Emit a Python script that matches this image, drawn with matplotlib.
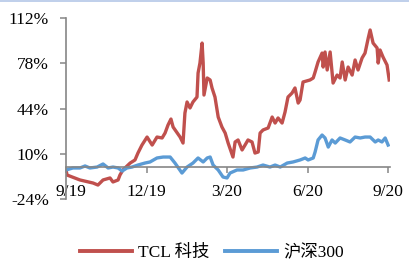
import matplotlib
matplotlib.use("Agg")
import matplotlib.pyplot as plt
from matplotlib.lines import Line2D
from matplotlib.transforms import ScaledTranslation

# months since 9/19 and cumulative return (%)
tcl_x = [0.00, 0.04, 0.52, 1.01, 1.19, 1.38, 1.64, 1.75, 1.94, 2.01, 2.12, 2.39, 2.57, 2.68,
         2.83, 3.02, 3.21, 3.39, 3.58, 3.69, 3.80, 3.91, 3.99, 4.25, 4.36, 4.43, 4.51, 4.62,
         4.73, 4.88, 4.92, 4.99, 5.07, 5.11, 5.14, 5.26, 5.37, 5.44, 5.55, 5.67, 5.81, 5.93,
         6.04, 6.22, 6.30, 6.41, 6.56, 6.67, 6.78, 6.93, 7.04, 7.16, 7.23, 7.34, 7.53, 7.68,
         7.79, 7.90, 8.05, 8.16, 8.27, 8.42, 8.53, 8.65, 8.72, 8.83, 9.09, 9.21, 9.28, 9.39,
         9.54, 9.58, 9.65, 9.73, 9.84, 9.95, 10.10, 10.21, 10.29, 10.40, 10.51, 10.66, 10.77,
         10.88, 11.03, 11.14, 11.26, 11.33, 11.44, 11.59, 11.63, 11.70, 11.81, 11.96, 12.04]
tcl_y = [-2.0, -5.8, -9.5, -11.8, -13.3, -9.5, -8.0, -11.0, -9.5, -5.8, -2.0, 3.2, 5.5, 10.7,
         16.7, 22.7, 16.7, 22.7, 22.0, 25.7, 31.7, 36.2, 30.2, 22.7, 18.2, 40.7, 49.0, 44.5,
         49.0, 52.7, 70.7, 78.2, 93.2, 78.2, 54.2, 67.0, 65.5, 59.5, 52.7, 37.7, 30.2, 25.7,
         18.2, 7.7, 19.0, 20.5, 13.0, 16.7, 20.5, 19.0, 10.7, 11.5, 25.7, 28.0, 29.5, 37.7,
         33.2, 37.0, 33.2, 41.5, 52.7, 55.7, 59.5, 48.2, 50.5, 64.0, 65.5, 67.0, 71.5, 79.0,
         85.7, 75.2, 86.5, 73.0, 86.5, 63.2, 69.2, 67.0, 79.0, 65.5, 75.2, 69.2, 80.5,
         73.0, 82.0, 85.7, 97.0, 103.0, 93.2, 89.5, 78.2, 88.0, 82.7, 76.7, 65.5]

hs_x = [0.00, 0.26, 0.52, 0.71, 0.89, 1.16, 1.38, 1.57, 1.75, 1.94, 2.09, 2.27, 2.46, 2.68,
        2.94, 3.13, 3.39, 3.62, 3.88, 4.06, 4.32, 4.51, 4.73, 4.92, 5.11, 5.26, 5.37, 5.48,
        5.67, 5.85, 6.00, 6.11, 6.37, 6.60, 6.86, 7.12, 7.34, 7.60, 7.79, 7.98, 8.24, 8.46,
        8.72, 8.91, 9.02, 9.21, 9.28, 9.39, 9.54, 9.65, 9.77, 9.91, 10.03, 10.21, 10.40,
        10.58, 10.77, 10.96, 11.14, 11.33, 11.52, 11.63, 11.77, 11.89, 12.00]
hs_y = [-2.0, -0.5, -0.5, 1.0, -0.5, 0.2, 2.5, -0.5, 0.2, -0.5, -2.8, -0.5, 0.2, 1.7,
        3.2, 4.0, 7.0, 7.7, 7.7, 3.2, -4.3, 0.2, 3.2, 7.0, 4.0, 7.0, 7.7, 1.7,
        -2.0, -7.3, -8.0, -4.3, -2.0, -2.0, -0.5, 0.2, 1.7, 0.2, 1.7, 0.2, 3.2, 4.0,
        5.5, 7.0, 5.5, 7.0, 11.5, 20.5, 24.2, 22.0, 15.2, 20.5, 18.2, 22.0, 20.5,
        19.0, 22.7, 22.0, 22.7, 22.7, 19.0, 20.5, 19.0, 22.0, 16.7]

x_ticks = [0, 3, 6, 9, 12]
x_labels = ["9/19", "12/19", "3/20", "6/20", "9/20"]
y_ticks = [-24, 10, 44, 78, 112]
y_labels = ["-24%", "10%", "44%", "78%", "112%"]
series_names = ["TCL 科技", "沪深300"]

RED = "#C0504D"
BLUE = "#5B9BD5"
GREY = "#868686"
FONT = ["Liberation Serif", "Noto Sans CJK SC", "DejaVu Sans"]
plt.rcParams["font.family"] = FONT

fig = plt.figure(figsize=(4.10, 2.66), dpi=100)
ax = fig.add_axes([66 / 410, 1 - 199.3 / 266, (390 - 66) / 410, (199.3 - 18) / 266])
ax.plot(tcl_x, tcl_y, color=RED, lw=2.4, solid_joinstyle="round")
ax.plot(hs_x, hs_y, color=BLUE, lw=2.4, solid_joinstyle="round")

ax.set_xlim(0, 12.07)
ax.set_ylim(-24, 112)
for s in ["top", "right"]:
    ax.spines[s].set_visible(False)
ax.spines["bottom"].set_position(("data", 0))
for s in ["left", "bottom"]:
    ax.spines[s].set_color(GREY)
    ax.spines[s].set_linewidth(1.2)

ax.set_yticks(y_ticks)
ax.set_yticklabels(y_labels)
ax.set_xticks(x_ticks)
ax.set_xticklabels(x_labels)
ax.tick_params(axis="y", direction="out", length=4.3, width=1.1, color=GREY,
               labelsize=12.5, pad=8)
ax.tick_params(axis="x", direction="out", length=4.3, width=1.1, color=GREY,
               labelsize=12.5, pad=8)
# first date label sits slightly right of its tick, as in the reference
first = ax.get_xticklabels()[0]
first.set_transform(first.get_transform() + ScaledTranslation(5 / 100, 0, fig.dpi_scale_trans))

# top border line
fig.add_artist(Line2D([0, 1], [0.998, 0.998], color="#B4C7E7", lw=1.2,
                      transform=fig.transFigure))

handles = [Line2D([], [], color=RED, lw=2.8), Line2D([], [], color=BLUE, lw=2.8)]
fig.legend(handles, series_names, loc="center", bbox_to_anchor=(0.517, 1 - 253 / 266),
           ncol=2, frameon=False, fontsize=12.5, handlelength=3.0,
           handletextpad=0.35, columnspacing=0.9)

fig.savefig("out.png", dpi=100)
